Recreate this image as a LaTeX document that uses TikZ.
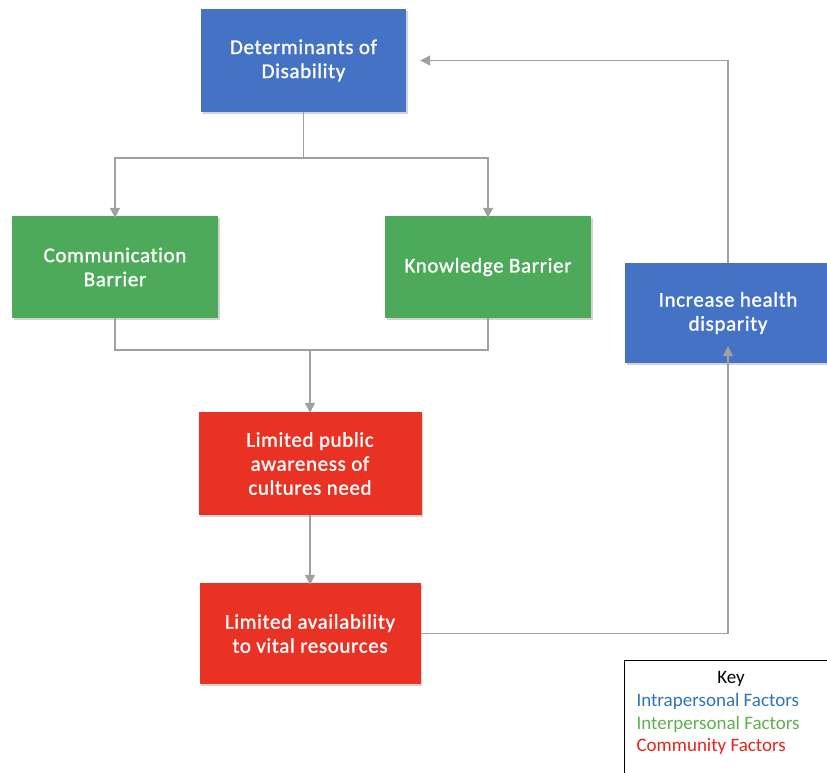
\documentclass[tikz,border=0pt]{standalone}
\usepackage{fontspec}
\setmainfont{Carlito}
\newfontfamily\boxfont[LetterSpace=3,Ligatures=NoCommon,FakeBold=1.2]{Carlito}
\usetikzlibrary{arrows.meta,shadows}
\definecolor{cblue}{HTML}{4472C4}
\definecolor{cgreen}{HTML}{4CAA5A}
\definecolor{cred}{HTML}{E93223}
\definecolor{kblue}{HTML}{2E75B6}
\definecolor{kgreen}{HTML}{5DB04E}
\definecolor{kred}{HTML}{E8231B}
\definecolor{lgray}{HTML}{A0A0A0}
\begin{document}
\begin{tikzpicture}[x=1pt,y=-1pt,
  boxstyle/.style={rectangle, draw=none, text=white, align=center, inner sep=0pt,
     font=\boxfont\fontsize{21}{24}\selectfont,
     drop shadow={shadow xshift=1.5pt, shadow yshift=-2pt, opacity=0.35, fill=gray}},
  conn/.style={draw=lgray, line width=1.2pt},
  arr/.style={conn, -{Triangle[length=10pt,width=10pt]}},
  keytext/.style={font=\fontsize{19}{22}\selectfont, anchor=base west}]
\useasboundingbox (0,0) rectangle (827,773);
\node[boxstyle, fill=cblue, minimum width=205pt, minimum height=103pt] (det) at (303.5,60.5) {Determinants of\\Disability};
\node[boxstyle, fill=cgreen, minimum width=206pt, minimum height=102pt] (com) at (115,267) {Communication\\Barrier};
\node[boxstyle, fill=cgreen, minimum width=206pt, minimum height=102pt] (kno) at (488,267) {Knowledge Barrier};
\node[boxstyle, fill=cblue, minimum width=206pt, minimum height=100pt] (inc) at (728,313) {Increase health\\disparity};
\node[boxstyle, fill=cred, minimum width=223pt, minimum height=103pt] (pub) at (310,463.5) {Limited public\\awareness of\\cultures need};
\node[boxstyle, fill=cred, minimum width=221pt, minimum height=101pt] (ava) at (310,633.5) {Limited availability\\to vital resources};

\coordinate (f1) at (303.5,158);
\coordinate (f2) at (310,350);
\draw[conn] (det.south) -- (f1);
\draw[arr] (f1) -| ([yshift=-2pt]com.north);
\draw[arr] (f1) -| ([yshift=-2pt]kno.north);
\draw[conn] (com.south) |- (f2);
\draw[conn] (kno.south) |- (f2);
\draw[arr] (f2) -- ([yshift=-1pt]pub.north);
\draw[arr] (pub.south) -- ([yshift=-2pt]ava.north);
\coordinate (g1) at (inc.south |- ava.east);
\draw[conn] (ava.east) -- (g1);
\draw[arr] (g1) -- ([yshift=17pt]inc.south);
\coordinate (h1) at (inc.north |- det.east);
\draw[conn] (inc.north) -- (h1);
\draw[arr] (h1) -- ([xshift=14pt]det.east);

\node[draw=black, line width=1.2pt, minimum width=210pt, minimum height=120pt, anchor=north west] (key) at (624,660) {};
\node[font=\fontsize{19}{22}\selectfont, anchor=base] (kt) at (731,683) {Key};
\node[keytext, text=kblue] (k1) at (633,706) {Intrapersonal Factors};
\node[keytext, text=kgreen] (k2) at (633,729) {Interpersonal Factors};
\node[keytext, text=kred] (k3) at (633,751) {Community Factors};
\end{tikzpicture}
\end{document}
